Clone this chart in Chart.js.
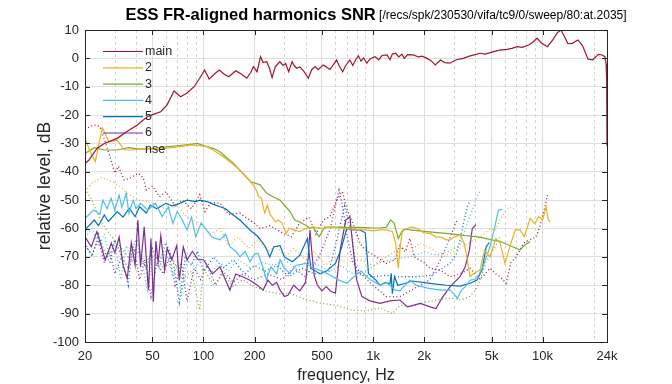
<!DOCTYPE html>
<html>
<head>
<meta charset="utf-8">
<script src="https://cdn.jsdelivr.net/npm/chart.js@4.4.0/dist/chart.umd.min.js"></script>
<style>
  html, body { margin: 0; padding: 0; background: #fff; }
  #graph1 { display: block; }
</style>
</head>
<body>
<canvas id="graph1" width="672" height="384"></canvas>
<script>
// axis ticks
var xTickValues = [20, 50, 100, 200, 500, 1000, 2000, 5000, 10000, 24000];
var xTickLabels = ['20', '50', '100', '200', '500', '1k', '2k', '5k', '10k', '24k'];
var xMinorValues = [30, 40, 60, 70, 80, 90, 300, 400, 600, 700, 800, 900, 3000, 4000, 6000, 7000, 8000, 9000, 20000];

// [frequency Hz, level dB]
var main = [[20,-37],[21,-36],[23.6,-31.7],[26,-30],[31,-28.2],[35,-26],[40.7,-23.5],[46.6,-20.6],[52,-19.5],[55.9,-18.8],
  [61,-16.4],[67,-11.5],[73.3,-13.5],[80,-12.2],[88,-10],[95,-7],[101.5,-4.1],[108,-7.3],[116,-5.5],[124,-4.1],[132,-5.5],
  [141,-6.5],[155,-4.4],[167,-5.5],[180,-7],[190,-5],[197,-2.9],[207,-4.7],[217,0.6],[225,-1.5],[236,-1.2],[245,-3.5],
  [254,-6.8],[265,-3],[282,-1.2],[295,-2.5],[305,-1.8],[318,-4.7],[333,-1.2],[345,-2.8],[355,-3.5],[370,-3],[390,-4.5],
  [415,-7],[435,-4],[455,-2.9],[475,-4],[508,-2.3],[530,-3],[557,-3.9],[580,-2.5],[610,-0.6],[630,-2.5],[662,-4.7],
  [690,-2.5],[730,-0.6],[760,-2.5],[790,-0.5],[820,0.9],[850,-1],[880,0.2],[919,-1.7],[960,-0.2],[1030,0.6],[1080,-0.5],
  [1130,1],[1210,1.2],[1260,-0.5],[1300,1.5],[1360,1.8],[1420,0.5],[1480,1.5],[1530,0],[1600,1.3],[1730,1.2],[1850,0.5],
  [1950,0.8],[2080,0],[2200,-0.8],[2330,-2.3],[2500,-0.6],[2650,-1.5],[2840,-1.7],[3100,-0.5],[3400,0],[3700,0.8],
  [4000,1.3],[4270,1.8],[4600,1.5],[5140,2.4],[5600,2.9],[6170,3.2],[6600,3.5],[7080,4.1],[7600,3.9],[8280,4.7],
  [8800,5.8],[9290,7.1],[9800,5.5],[10680,4.1],[11500,6.5],[12200,9],[12830,10],[13400,8],[14060,5.3],[14900,5.2],
  [16150,6.5],[17200,4.5],[18560,-0.3],[19800,-0.5],[21320,1.4],[22500,1.2],[23330,0.6],[23700,-2],[23900,-8],[24000,-31]];

var h2 = [[20,-28.2],[21.5,-33],[23,-36.4],[25.3,-24.4],[27.7,-29.4],[31,-28.8],[34.1,-32.3],[38,-32.3],[45,-31.8],
  [55,-32],[65,-31.5],[75,-31],[83,-30.5],[95,-30.8],[104,-31.1],[115,-32.5],[131,-34.7],[147,-37],[164,-39.4],[180,-42],
  [196,-44.6],[205,-46.5],[212,-48.8],[220,-49.3],[226,-53],[230,-54.5],[238,-51.7],[247,-55],[257,-56.4],[265,-57.6],
  [275,-57],[290,-58],[308,-61.7],[320,-59.9],[345,-60.5],[370,-61.1],[400,-60],[445,-59.4],[500,-60],[560,-59.5],
  [620,-59.8],[700,-60],[800,-60.3],[900,-60.5],[1000,-60.8],[1100,-60.5],[1200,-60.5],[1300,-61],[1360,-65],[1410,-74],
  [1450,-66],[1490,-60.5],[1600,-60],[1700,-59.4],[1850,-60.2],[2000,-61.5],[2170,-61.7],[2350,-63],[2500,-62.9],
  [2700,-64],[2850,-64],[3000,-63],[3260,-62.3],[3450,-65.2],[3600,-71],[3740,-77],[3900,-76],[4280,-74.6],[4550,-67.6],
  [4900,-70],[5300,-63.5],[5620,-65],[6000,-72.3],[6440,-66],[6900,-60.5],[7370,-60.5],[7800,-62.9],[8450,-56.4],
  [9000,-58.2],[9500,-55.8],[10000,-57],[10500,-52.3],[10800,-57],[11100,-57.6]];

var h3 = [[20,-33.5],[22.7,-31.5],[26,-32.3],[31,-32.3],[36,-31.5],[42,-32],[50,-31.8],[60,-31.2],[70,-30.8],[84,-30.3],
  [92,-30],[104,-31.1],[115,-31.8],[125,-32.9],[140,-35.5],[150,-37],[170,-40.5],[190,-43.5],[216,-44.6],[236,-47.6],
  [257,-48.8],[283,-50],[300,-51.7],[324,-54],[345,-57],[371,-57.8],[400,-58.8],[425,-59.9],[445,-59.5],[480,-62.9],
  [520,-59.5],[600,-59.5],[700,-59.6],[800,-59.6],[900,-59.7],[1000,-59.8],[1100,-59.8],[1200,-59.5],[1270,-57],
  [1330,-58],[1410,-63.5],[1480,-61],[1560,-60.2],[1650,-60.5],[2000,-61],[2490,-61.5],[3000,-62],[3500,-62.5],
  [4280,-63],[5000,-64],[5600,-64.5],[6400,-66],[7370,-67.6],[7800,-66],[8450,-64.6]];

var h4 = [[20,-56.4],[22.5,-53.5],[24.5,-55],[25.5,-50],[27,-53],[28.5,-49.3],[30,-53.5],[31.8,-48.2],[33,-52.5],[35,-47.6],
  [36.3,-54.6],[38.5,-50],[40,-53],[42.5,-51.1],[47,-53.5],[52,-51],[57,-55.8],[62,-52.5],[66,-58.2],[70,-54],[75,-57],
  [80,-60.5],[85,-56],[90,-62.9],[97,-58],[104,-60.5],[112,-63],[125,-64],[135,-62],[143,-66.4],[155,-68],[164,-70],
  [176,-68],[188,-71.7],[200,-69],[210,-68.8],[225,-74],[235,-78.2],[250,-73.5],[270,-76],[283,-71],[300,-74],
  [324,-75.8],[350,-73],[400,-72.3],[450,-74],[500,-75],[558,-76.4],[620,-78],[700,-79.3],[770,-77],[850,-75],
  [960,-78],[1100,-80],[1200,-79],[1350,-81.7],[1440,-82],[1650,-78.2],[1800,-80],[2100,-81],[2490,-81.7],[2850,-81.7],
  [3000,-83],[3150,-84.6],[3300,-82],[3500,-80.5],[3740,-78.2],[4100,-77.6],[4450,-73.5],[4900,-66.4],[5200,-60],
  [5500,-53.5],[5800,-53.2]];

var h5 = [[20,-60.5],[22.7,-57],[24,-59],[26,-55.2],[27.5,-57.5],[31,-54],[33.5,-56],[36.5,-52.9],[39.5,-55.8],[42,-52.3],
  [46,-54.5],[48.5,-51.7],[53,-53],[60,-51.1],[65,-52],[70,-51.5],[80,-50],[90,-50.5],[95,-50],[105,-50.5],[115,-51.5],
  [125,-52.3],[135,-53],[145,-54.6],[164,-57],[188,-60.5],[210,-62.9],[232,-66.4],[246,-70],[260,-66.4],[283,-66],
  [300,-70],[335,-71.7],[370,-69.4],[410,-63.5],[430,-74],[487,-76],[530,-75],[600,-72.3],[650,-67],[700,-60],
  [760,-60.5],[838,-60.5],[900,-61.5],[940,-75.8],[1040,-78.2],[1100,-80],[1180,-79],[1260,-79.5],[1280,-75.8],
  [1300,-83],[1340,-77],[1400,-80],[1550,-79.3],[1700,-78.5],[2170,-79.3],[2700,-80],[3260,-80.3],[3740,-79.3],
  [4100,-78.2],[4400,-74.6],[4650,-66.4],[4850,-65]];

var h6 = [[20,-62.9],[21.8,-66.4],[23.5,-61.1],[25,-66.4],[26.3,-71.1],[28.6,-65.2],[30,-68.5],[31.8,-63],[33.5,-72.9],
  [35.5,-77.6],[37.5,-65],[39.5,-72.9],[41,-57],[42.5,-73.5],[44.7,-59.4],[47.3,-81.7],[49,-63.5],[50.6,-85.8],
  [52.4,-64.4],[54,-72],[56,-62.5],[59,-74.6],[61,-67],[65,-71],[69.5,-66],[72,-78.2],[76,-66.5],[80,-71],[86,-68],
  [93,-71],[100,-71],[113,-76],[125,-73.5],[135,-78.2],[143,-81.7],[155,-76],[170,-77],[188,-78.2],[208,-80],
  [225,-81.7],[240,-78.2],[255,-80],[270,-79],[283,-81.7],[300,-84],[315,-83.5],[340,-80],[370,-82],[400,-79],
  [415,-70],[425,-60.5],[435,-68],[450,-76.6],[470,-80],[500,-82],[530,-80.5],[560,-82],[600,-82.8],[640,-67.6],
  [690,-57],[730,-55.8],[760,-66],[800,-78],[860,-84],[960,-85.5],[1100,-86.4],[1260,-85.5],[1440,-85.2],[1600,-87.6],
  [1900,-86.4],[2170,-87.6],[2350,-88.2],[2550,-84.5],[2850,-80.5],[3260,-77],[3500,-73.5],[3700,-67.6],[3850,-60],
  [4050,-58.6]];

// dotted (noise) traces, same colour order
var nse = [[20,-25],[22.5,-23.5],[24.5,-24],[26.5,-30],[28.5,-36],[30,-40.5],[31.5,-38],[34,-42.9],[37.5,-42],[41,-40.5],
  [44,-42],[46,-46.4],[50,-45],[55,-48.8],[60,-47],[68,-52],[75,-50],[85,-53],[95,-48],[102,-54],[110,-51],[125,-51],
  [140,-55],[164,-54.6],[200,-58.2],[216,-60],[247,-59],[283,-61.1],[330,-62.9],[370,-58],[420,-56],[460,-62],
  [510,-57],[558,-55.8],[610,-50],[660,-47],[700,-53],[760,-58],[838,-65.2],[900,-67.6],[1050,-70],[1200,-72.3],
  [1350,-71],[1440,-66],[1550,-68.2],[1650,-63.5],[1750,-70],[2000,-72],[2170,-74],[2500,-74.6],[2850,-77],[3260,-76],
  [3740,-74],[4280,-78],[4900,-74],[5300,-76],[5620,-77],[6100,-79.3],[6500,-72],[7000,-70],[7700,-65.2],[8400,-64],
  [9200,-62.9],[9900,-57],[10700,-48.2]];

var n2 = [[20,-47],[22,-44],[25,-42],[28,-43],[32,-45],[36,-48],[42,-50],[50,-51],[60,-53],[70,-52],[80,-56],[95,-58],
  [110,-62],[125,-60],[140,-66],[160,-63],[185,-67],[210,-64],[240,-68],[270,-66],[300,-70],[340,-67],[400,-71],
  [450,-68],[520,-73],[600,-70],[700,-72],[840,-71],[1000,-73],[1200,-70],[1450,-66.7],[1650,-68],[1900,-65],
  [2200,-67],[2600,-70],[3000,-68],[3300,-66.7],[3700,-65],[4300,-63],[4900,-60],[5300,-60.5],[5600,-57],[6000,-54],
  [6400,-52.5],[7000,-53.5]];

var n3 = [[20,-46],[22,-50],[25,-58],[28,-62],[32,-66],[36,-70],[40,-64],[45,-73],[50,-68],[58,-74],[65,-70],[75,-78],
  [85,-75],[95,-88.7],[100,-74],[115,-80],[130,-76],[150,-80.5],[170,-78],[200,-80.5],[230,-82],[280,-83],[324,-82.8],
  [400,-85],[500,-86.4],[600,-87],[760,-88.8],[900,-89],[1100,-88],[1300,-90],[1450,-87],[1650,-87.6],[2000,-86],
  [2500,-85],[2900,-84.5],[3300,-85.2],[3700,-84],[4000,-82],[4300,-78],[4600,-72.3],[4900,-69.4],[5300,-66],
  [5620,-62.9]];

var n4 = [[20,-63],[22,-60],[24,-66],[26,-62],[28,-70],[30,-65],[32.5,-78],[35,-66],[38,-72],[41,-64],[44,-74],
  [47,-82.8],[50,-70],[55,-74],[60,-68],[66,-77],[70,-72],[74,-84],[80,-71],[90,-74],[100,-70],[110,-76],[125,-72],
  [140,-75],[160,-71],[190,-74],[220,-72],[260,-73],[300,-71],[350,-74],[400,-72],[480,-73],[560,-75],[650,-73],
  [760,-76],[900,-75],[1100,-72],[1300,-71],[1650,-70],[2000,-68.2],[2400,-69.4],[2800,-68],[3260,-66],[3600,-58.2],
  [3850,-53.5],[4100,-48.8],[4300,-46.6]];

var n5 = [[20,-65],[22,-70],[24,-62],[26,-68],[28,-72],[30,-64],[33,-70],[36,-80],[38,-66],[42,-69],[46,-74],[50,-67],
  [55,-72],[60,-65],[66,-71],[72,-86],[78,-70],[85,-73],[92,-68],[100,-75],[115,-70],[130,-74],[150,-71],[175,-76],
  [200,-73],[230,-75],[270,-73],[320,-77],[380,-74],[450,-76],[550,-75],[600,-66],[680,-52],[750,-62],[800,-76],
  [1000,-77],[1200,-76.5],[1440,-77],[1800,-77],[2200,-76.5],[2850,-72.3],[3100,-69],[3260,-64],[3450,-57],
  [3600,-52.3],[3750,-50]];

var n6 = [[20,-66],[22,-69],[24,-64],[26,-72],[28,-68],[30,-76],[33,-70],[36,-74],[39,-67],[42,-78],[45,-71],[49,-84],
  [53,-72],[58,-76],[63,-70],[68,-80],[74,-72],[80,-85.5],[88,-74],[96,-78],[105,-73],[118,-80],[130,-75],[150,-79],
  [170,-76],[200,-78],[240,-76],[290,-78],[340,-74],[400,-77],[480,-70],[560,-60],[600,-52],[630,-46.4],[660,-52],
  [700,-62],[760,-72],[850,-76],[1000,-80],[1200,-84],[1440,-84],[1650,-82],[1900,-80],[2170,-78],[2500,-71],
  [2700,-66.4],[2900,-62],[3100,-57.6],[3200,-57]];

var solidSeries = [main, h2, h3, h4, h5, h6];
var dottedSeries = [nse, n2, n3, n4, n5, n6];
var seriesNames = ['main', '2', '3', '4', '5', '6', 'nse'];
var seriesColors = ['#A2142F', '#EDB120', '#77AC30', '#4DBEEE', '#0072BD', '#7E2F8E'];

function toPoints(arr) {
  return arr.map(function (p) { return { x: p[0], y: p[1] }; });
}

var datasets = [];
solidSeries.forEach(function (s, i) {
  datasets.push({
    label: seriesNames[i], data: toPoints(s), borderColor: seriesColors[i],
    borderWidth: 1.2, pointRadius: 0, showLine: true, tension: 0, order: i
  });
});
dottedSeries.forEach(function (s, i) {
  datasets.push({
    label: i === 0 ? 'nse' : 'nse' + (i + 1), data: toPoints(s), borderColor: seriesColors[i],
    borderWidth: 1.3, borderDash: [1, 2.5], pointRadius: 0, showLine: true, tension: 0, order: 10 + i
  });
});

var textColor = '#262626';
var fontFamily = '"Liberation Sans", Arial, Helvetica, sans-serif';

var matlabFrame = {
  id: 'matlabFrame',
  beforeDatasetsDraw: function (chart) {
    var ctx = chart.ctx, a = chart.chartArea, xs = chart.scales.x;
    ctx.save();
    ctx.strokeStyle = '#d4d4d4';
    ctx.lineWidth = 1;
    ctx.setLineDash([3, 3]);
    xMinorValues.forEach(function (v) {
      var px = Math.round(xs.getPixelForValue(v)) + 0.5;
      ctx.beginPath(); ctx.moveTo(px, a.top); ctx.lineTo(px, a.bottom); ctx.stroke();
    });
    ctx.restore();
  },
  afterDatasetsDraw: function (chart) {
    var ctx = chart.ctx, a = chart.chartArea, xs = chart.scales.x, ys = chart.scales.y;
    ctx.save();
    // box
    ctx.strokeStyle = textColor;
    ctx.lineWidth = 1;
    ctx.strokeRect(Math.round(a.left) + 0.5, Math.round(a.top) + 0.5,
      Math.round(a.right - a.left), Math.round(a.bottom - a.top));
    // inside ticks
    ctx.beginPath();
    xTickValues.forEach(function (v) {
      var px = Math.round(xs.getPixelForValue(v)) + 0.5;
      ctx.moveTo(px, a.bottom); ctx.lineTo(px, a.bottom - 5);
      ctx.moveTo(px, a.top); ctx.lineTo(px, a.top + 5);
    });
    for (var v = -100; v <= 10; v += 10) {
      var py = Math.round(ys.getPixelForValue(v)) + 0.5;
      ctx.moveTo(a.left, py); ctx.lineTo(a.left + 5, py);
      ctx.moveTo(a.right, py); ctx.lineTo(a.right - 5, py);
    }
    ctx.stroke();
    // legend
    ctx.font = '12.5px ' + fontFamily;
    ctx.textBaseline = 'middle';
    ctx.fillStyle = textColor;
    seriesNames.forEach(function (name, i) {
      var ly = 51.5 + i * 16.3;
      if (i < seriesColors.length) {
        ctx.strokeStyle = seriesColors[i];
        ctx.lineWidth = 1.2;
        ctx.beginPath(); ctx.moveTo(103, ly); ctx.lineTo(143, ly); ctx.stroke();
      }
      ctx.fillText(name, 145, ly);
    });
    ctx.restore();
  },
  afterDraw: function (chart) {
    var ctx = chart.ctx, a = chart.chartArea;
    ctx.save();
    ctx.fillStyle = '#000';
    ctx.textBaseline = 'middle';
    var t1 = 'ESS FR-aligned harmonics SNR';
    var t2 = ' [/recs/spk/230530/vifa/tc9/0/sweep/80:at.2035]';
    ctx.font = 'bold 16.5px ' + fontFamily;
    var w1 = ctx.measureText(t1).width;
    ctx.font = '12px ' + fontFamily;
    var w2 = ctx.measureText(t2).width;
    var x0 = 376 - (w1 + w2) / 2;
    ctx.font = 'bold 16.5px ' + fontFamily;
    ctx.fillText(t1, x0, 15);
    ctx.font = '12px ' + fontFamily;
    ctx.fillText(t2, x0 + w1, 16);
    // axis titles
    ctx.fillStyle = textColor;
    ctx.textAlign = 'center';
    ctx.font = '16px ' + fontFamily;
    ctx.fillText('frequency, Hz', (a.left + a.right) / 2, 376);
    ctx.font = '17.5px ' + fontFamily;
    ctx.translate(45, (a.top + a.bottom) / 2);
    ctx.rotate(-Math.PI / 2);
    ctx.fillText('relative level, dB', 0, 0);
    ctx.restore();
  }
};

var chart = new Chart(document.getElementById('graph1').getContext('2d'), {
  type: 'scatter',
  data: { datasets: datasets },
  options: {
    responsive: false,
    animation: false,
    events: [],
    devicePixelRatio: 1,
    layout: { padding: { left: 0, top: 30, right: 65, bottom: 0 } },
    plugins: { legend: { display: false }, tooltip: { enabled: false } },
    scales: {
      x: {
        type: 'logarithmic', min: 20, max: 24000,
        afterFit: function (s) { s.height = 42; },
        afterBuildTicks: function (s) { s.ticks = xTickValues.map(function (v) { return { value: v }; }); },
        grid: { color: '#dedede', drawTicks: false },
        border: { color: textColor },
        ticks: {
          autoSkip: false, maxRotation: 0, padding: 7, color: textColor,
          font: { size: 13, family: fontFamily },
          callback: function (value) {
            var i = xTickValues.indexOf(value);
            return i >= 0 ? xTickLabels[i] : '';
          }
        }
      },
      y: {
        min: -100, max: 10,
        afterFit: function (s) { s.width = 85; },
        grid: { color: '#dedede', drawTicks: false },
        border: { color: textColor },
        ticks: { stepSize: 10, padding: 6, color: textColor, font: { size: 13, family: fontFamily } }
      }
    }
  },
  plugins: [matlabFrame]
});
</script>
</body>
</html>
